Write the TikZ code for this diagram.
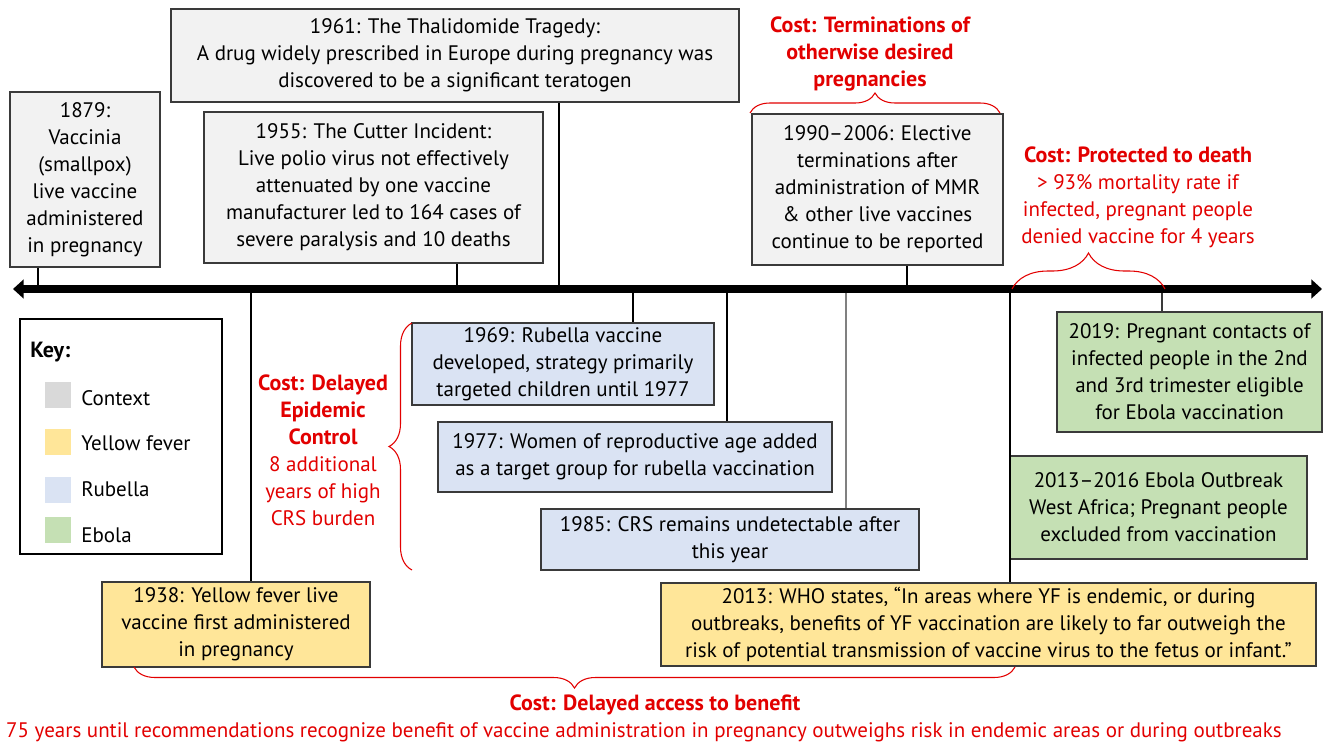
\documentclass[tikz,border=0pt]{standalone}
\usepackage{fontspec}
\setmainfont{PT Sans}
\usetikzlibrary{arrows.meta,decorations.pathreplacing}

\definecolor{boxline}{HTML}{3A3A3A}
\definecolor{ctxfill}{HTML}{F2F2F2}
\definecolor{ctxkey}{HTML}{D9D9D9}
\definecolor{yffill}{HTML}{FFE699}
\definecolor{rubfill}{HTML}{DAE3F3}
\definecolor{ebofill}{HTML}{C5E0B4}
\definecolor{costred}{RGB}{226,0,0}

\newcommand{\evtfont}{\fontsize{15.75}{20.25}\selectfont}
\newcommand{\costbf}[1]{{\fontsize{16.5}{20.25}\selectfont\bfseries #1}}

\tikzset{
  evtbox/.style={draw=boxline,line width=1.1pt,inner sep=0pt,align=center,font=\evtfont},
  costtext/.style={text=costred,align=center,inner sep=0pt,font=\evtfont},
  costbrace/.style={draw=costred,line width=0.8pt,decorate},
  tick/.style={line width=0.8pt}
}

\begin{document}
\begin{tikzpicture}[x=0.75pt,y=-0.75pt]
    \useasboundingbox (0,0) rectangle (1325,743);

        \begin{scope}[every node/.style={evtbox}]
            \node[fill=ctxfill,minimum width=112.5pt,minimum height=131.25pt] (n1879) at (85,179.5) {1879:\\Vaccinia\\(smallpox)\\live vaccine\\administered\\in pregnancy};
            \node[fill=ctxfill,minimum width=426pt,minimum height=69.75pt] (n1961) at (455,55.5) {1961: The Thalidomide Tragedy:\\A drug widely prescribed in Europe during pregnancy was\\discovered to be a significant teratogen};
            \node[fill=ctxfill,minimum width=254.25pt,minimum height=113.25pt] (n1955) at (373.5,187.5) {1955: The Cutter Incident:\\Live polio virus not effectively\\attenuated by one vaccine\\manufacturer led to 164 cases of\\severe paralysis and 10 deaths};
            \node[fill=ctxfill,minimum width=188.25pt,minimum height=113.25pt] (n1990) at (877.5,189.5) {1990--2006: Elective\\terminations after\\administration of MMR\\\& other live vaccines\\continue to be reported};
            \node[fill=rubfill,minimum width=226.5pt,minimum height=61.5pt] (n1969) at (563,364) {1969: Rubella vaccine\\developed, strategy primarily\\targeted children until 1977};
            \node[fill=rubfill,minimum width=295.5pt,minimum height=52.5pt] (n1977) at (635,457) {1977: Women of reproductive age added\\as a target group for rubella vaccination};
            \node[fill=rubfill,minimum width=283.5pt,minimum height=45.75pt] (n1985) at (730,539.5) {1985: CRS remains undetectable after\\this year};
            \node[fill=ebofill,minimum width=198.75pt,minimum height=90pt] (n2019) at (1189.5,372) {2019: Pregnant contacts of\\infected people in the 2nd\\and 3rd trimester eligible\\for Ebola vaccination};
            \node[fill=ebofill,minimum width=222.75pt,minimum height=77.25pt] (nebola) at (1158.5,507.5) {2013--2016 Ebola Outbreak\\West Africa; Pregnant people\\excluded from vaccination};
            \node[fill=yffill,minimum width=201pt,minimum height=63.75pt] (n1938) at (236,624.5) {1938: Yellow fever live\\vaccine first administered\\in pregnancy};
            \node[fill=yffill,minimum width=491.25pt,minimum height=62.25pt] (n2013) at (988.5,624.5) {2013: WHO states, “In areas where YF is endemic, or during\\outbreaks, benefits of YF vaccination are likely to far outweigh the\\risk of potential transmission of vaccine virus to the fetus or infant.”};
            \node[draw=black,minimum width=151.5pt,minimum height=176.25pt] (key) at (121,436.5) {};
        \end{scope}

        \begin{scope}[every node/.style={inner sep=0pt,font=\evtfont}]
            \node[anchor=west] (keyhead) at (30,352) {\costbf{Key:}};
            \node[fill=ctxkey,minimum size=19.5pt] (kctx) at (58,395) {};
            \node[fill=yffill,minimum size=19.5pt] (kyf) at (58,441.5) {};
            \node[fill=rubfill,minimum size=19.5pt] (krub) at (58,490) {};
            \node[fill=ebofill,minimum size=19.5pt] (kebo) at (58,530) {};
            \node[anchor=west] (lctx) at (81,398) {Context};
            \node[anchor=west] (lyf) at (81,443) {Yellow fever};
            \node[anchor=west] (lrub) at (81,489) {Rubella};
            \node[anchor=west] (lebo) at (81,535) {Ebola};
        \end{scope}

        \coordinate (axL) at (13,289);
        \coordinate (axR) at (1322,289);
        \coordinate (t1879) at (38,289);
        \coordinate (t1938) at (251,289);
        \coordinate (t1955) at (457,289);
        \coordinate (t1961) at (559,289);
        \coordinate (t1969) at (633,289);
        \coordinate (t1977) at (727,289);
        \coordinate (t1985) at (846,289);
        \coordinate (t1990) at (907,289);
        \coordinate (t2013) at (1010,289);
        \coordinate (t2019) at (1162,289);

        \begin{scope}[every path/.style={tick}]
            \draw (t1879) -- (t1879 |- n1879.south);
            \draw (t1955) -- (t1955 |- n1955.south);
            \draw (t1961) -- (t1961 |- n1961.south);
            \draw (t1990) -- (t1990 |- n1990.south);
            \draw (t1938) -- (t1938 |- n1938.north);
            \draw (t1969) -- (t1969 |- n1969.north);
            \draw (t1977) -- (t1977 |- n1977.north);
            \draw[gray] (t1985) -- (t1985 |- n1985.north);
            \draw (t2013) -- (t2013 |- n2013.north);
            \draw[boxline] (t2019) -- (t2019 |- n2019.north);
        \end{scope}

        \draw[line width=6pt,{Triangle[length=8pt,width=14pt]}-{Triangle[length=8pt,width=14pt]}] (axL) -- (axR);

        \begin{scope}[every node/.style={costtext}]
            \node (cterm) at (870,54) {\costbf{Cost: Terminations of}\\\costbf{otherwise desired}\\\costbf{pregnancies}};
            \node (cdeath) at (1138,197.5) {\costbf{Cost: Protected to death}\\> 93\% mortality rate if\\infected, pregnant people\\denied vaccine for 4 years};
            \node (cepid) at (323,450) {\costbf{Cost: Delayed}\\\costbf{Epidemic}\\\costbf{Control}\\8 additional\\years of high\\CRS burden};
            \node (caccess) at (655,705) {\costbf{Cost: Delayed access to benefit}};
            \node (caccnote) at (644,732) {75 years until recommendations recognize benefit of vaccine administration in pregnancy outweighs risk in endemic areas or during outbreaks};
        \end{scope}

        \draw[costbrace,decoration={brace,amplitude=15pt}] (750,113) -- (1000,113);
        \draw[costbrace,decoration={brace,amplitude=27pt}] (1012,289) -- (1165,289);
        \draw[costbrace,decoration={brace,amplitude=17.25pt}] (412,570) -- (412,323);
        \draw[costbrace,decoration={brace,amplitude=15.75pt}] (1015,667) -- (134,667);

    \end{tikzpicture}
\end{document}
